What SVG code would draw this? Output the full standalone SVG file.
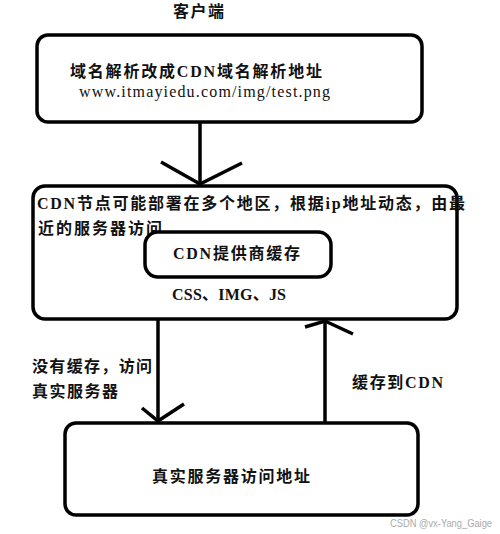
<svg xmlns="http://www.w3.org/2000/svg" width="500" height="534" viewBox="0 0 500 534">
<style>
.box{fill:#fff;stroke:#000;stroke-width:3.5}
.ln{fill:none;stroke:#000;stroke-width:3.5;stroke-linecap:butt}
.t{font-family:"Liberation Serif","Noto Sans CJK SC",serif;font-size:16px;font-weight:bold;fill:#111}
.n{font-weight:normal}
.wm{font-family:"Liberation Sans","Noto Sans",sans-serif;font-size:10px;fill:#aaa}
</style>
<rect width="500" height="534" fill="#fff"/>
<text class="t" x="173" y="17" textLength="51" lengthAdjust="spacing">客户端</text>
<g id="client">
<rect class="box" x="37" y="35" width="385" height="87" rx="11"/>
<text class="t" x="70" y="77" textLength="252" lengthAdjust="spacing">域名解析改成CDN域名解析地址</text>
<text class="t n" x="79" y="97" textLength="251" lengthAdjust="spacing">www.itmayiedu.com/img/test.png</text>
</g>
<g id="cdn">
<rect class="box" x="33" y="186" width="424" height="133" rx="12"/>
<text class="t" x="37" y="209" textLength="428" lengthAdjust="spacing">CDN节点可能部署在多个地区，根据ip地址动态，由最</text>
<text class="t" x="38" y="234" textLength="124" lengthAdjust="spacing">近的服务器访问</text>
<g id="cache">
<rect class="box" x="145" y="232" width="186" height="45" rx="13"/>
<text class="t" x="173" y="259" textLength="127" lengthAdjust="spacing">CDN提供商缓存</text>
</g>
<text class="t" x="172" y="300" textLength="114" lengthAdjust="spacing">CSS、IMG、JS</text>
</g>
<g id="server">
<rect class="box" x="65" y="423" width="353" height="92" rx="11"/>
<text class="t" x="152" y="482" textLength="158" lengthAdjust="spacing">真实服务器访问地址</text>
</g>
<g id="connectors">
<line class="ln" x1="200" y1="122" x2="200" y2="185"/>
<polyline class="ln" points="161,162 200,184 242,163"/>
<line class="ln" x1="158" y1="319" x2="158" y2="422"/>
<polyline class="ln" points="142,408 158,421 184,404"/>
<line class="ln" x1="325" y1="423" x2="325" y2="320"/>
<polyline class="ln" points="305,327 325,321 353,334"/>
</g>
<text class="t" x="32" y="372" textLength="120" lengthAdjust="spacing">没有缓存，访问</text>
<text class="t" x="32" y="397" textLength="86" lengthAdjust="spacing">真实服务器</text>
<text class="t" x="352" y="388" textLength="91" lengthAdjust="spacing">缓存到CDN</text>
<text class="wm" x="390" y="527" textLength="102" lengthAdjust="spacingAndGlyphs">CSDN @vx-Yang_Gaige</text>
</svg>
